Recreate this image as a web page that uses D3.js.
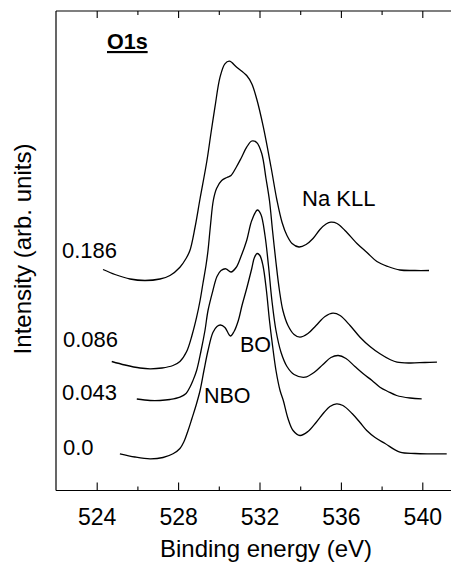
<!DOCTYPE html>
<html>
<head>
<meta charset="utf-8">
<script src="https://cdn.jsdelivr.net/npm/d3@7"></script>
<style>
  html, body { margin: 0; padding: 0; background: #fff; }
  svg { display: block; }
  text { font-family: "Liberation Sans", Arial, sans-serif; fill: #000; }
</style>
</head>
<body>
<svg id="chart" width="451" height="565"></svg>
<script>
// O1s XPS spectra, stacked by Na2O fraction (arbitrary intensity units)
const seriesLabels = ["0.0", "0.043", "0.086", "0.186"];

const energy186 = [524.31, 524.90, 525.64, 526.37, 527.11, 527.60, 528.09, 528.39, 528.58, 528.83, 529.08, 529.41, 529.62, 529.81, 530.06, 530.30, 530.52, 530.88, 531.37, 531.62, 531.86, 532.19, 532.57, 532.86, 533.11, 533.35, 533.60, 533.94, 534.29, 534.63, 534.97, 535.27, 535.51, 535.81, 536.20, 536.79, 537.28, 537.77, 538.31, 538.90, 539.64, 540.33];
const intensity186 = [22.1, 21.6, 21.15, 21.0, 21.15, 21.5, 22.33, 23.2, 24.0, 26.3, 29.2, 32.9, 35.8, 38.33, 41.33, 42.67, 42.93, 42.33, 41.5, 40.67, 39.17, 36.33, 32.3, 29.0, 26.8, 25.5, 24.7, 24.35, 24.6, 25.2, 26.1, 26.65, 26.83, 26.7, 26.0, 24.7, 23.8, 22.9, 22.4, 22.05, 22.0, 22.0];

const energy086 = [524.74, 525.39, 526.13, 526.62, 527.21, 527.75, 528.09, 528.42, 528.68, 528.91, 529.08, 529.22, 529.37, 529.47, 529.59, 529.73, 529.89, 530.14, 530.40, 530.60, 530.85, 531.09, 531.37, 531.62, 531.86, 532.11, 532.32, 532.49, 532.64, 532.81, 532.98, 533.15, 533.40, 533.70, 533.99, 534.38, 534.78, 535.22, 535.61, 535.96, 536.45, 536.94, 537.43, 537.92, 538.41, 538.76, 539.40, 540.13, 540.72];
const intensity086 = [12.9, 12.55, 12.25, 12.17, 12.25, 12.5, 12.9, 13.9, 15.5, 17.33, 19.0, 20.7, 22.5, 24.0, 26.5, 29.0, 30.2, 31.0, 31.3, 31.5, 32.3, 33.2, 34.33, 34.95, 34.8, 33.7, 31.2, 29.0, 26.0, 22.8, 20.0, 18.0, 16.5, 15.6, 15.33, 15.7, 16.5, 17.4, 17.73, 17.5, 16.5, 15.33, 14.4, 13.67, 13.1, 12.83, 12.75, 12.8, 12.83];

const energy043 = [525.97, 526.62, 527.11, 527.60, 528.09, 528.39, 528.58, 528.73, 528.91, 529.13, 529.32, 529.47, 529.71, 529.91, 530.11, 530.35, 530.60, 530.85, 531.09, 531.37, 531.62, 531.90, 532.07, 532.27, 532.44, 532.61, 532.81, 533.06, 533.35, 533.70, 534.24, 534.68, 535.12, 535.51, 535.87, 536.25, 536.69, 537.10, 537.53, 537.92, 538.31, 538.74, 539.40, 539.97];
const intensity043 = [9.15, 9.0, 9.0, 9.1, 9.33, 9.7, 10.33, 11.0, 12.0, 14.0, 16.0, 18.0, 20.0, 21.4, 22.0, 22.17, 21.85, 22.3, 23.4, 25.0, 27.0, 28.05, 27.6, 25.5, 22.5, 19.0, 16.0, 13.8, 12.4, 11.6, 11.33, 11.8, 12.6, 13.3, 13.5, 13.2, 12.4, 11.67, 11.0, 10.33, 9.9, 9.5, 9.25, 9.17];

const energy000 = [525.14, 525.88, 526.62, 527.26, 527.75, 528.09, 528.29, 528.49, 528.68, 528.88, 529.08, 529.27, 529.47, 529.71, 529.91, 530.08, 530.30, 530.57, 530.75, 530.96, 531.14, 531.37, 531.62, 531.75, 531.88, 532.02, 532.17, 532.34, 532.49, 532.64, 532.81, 533.01, 533.17, 533.40, 533.65, 533.99, 534.38, 534.78, 535.17, 535.46, 535.79, 536.10, 536.55, 536.94, 537.27, 537.68, 538.17, 538.90, 539.64, 540.38, 541.20];
const intensity000 = [3.67, 3.35, 3.17, 3.3, 3.67, 4.2, 4.9, 6.0, 7.2, 8.5, 10.0, 12.0, 14.0, 15.8, 16.4, 16.55, 16.3, 15.45, 15.9, 17.0, 18.5, 20.2, 22.2, 23.3, 23.7, 23.5, 22.5, 20.0, 17.0, 14.5, 12.0, 10.0, 9.0, 7.2, 6.0, 5.5, 5.9, 6.8, 7.8, 8.4, 8.67, 8.5, 7.7, 6.8, 6.0, 5.3, 4.7, 3.83, 3.7, 3.67, 3.67];

const xTickValues = [524, 528, 532, 536, 540];
const xMinorTickValues = [526, 530, 534, 538];
const peakLabels = ["Na KLL", "BO", "NBO"];

const spectra = [
  { label: seriesLabels[0], energy: energy000, intensity: intensity000 },
  { label: seriesLabels[1], energy: energy043, intensity: intensity043 },
  { label: seriesLabels[2], energy: energy086, intensity: intensity086 },
  { label: seriesLabels[3], energy: energy186, intensity: intensity186 }
];

const svg = d3.select("#chart");
const plotLeft = 56, plotTop = 11, plotBottom = 490.5;

const x = d3.scaleLinear().domain([522, 542]).range([plotLeft, plotLeft + 20 * 20.35]);
const y = d3.scaleLinear().domain([0, 47.95]).range([plotBottom, plotTop]);

// frame: left, top and bottom edges (right edge falls outside the view)
const frame = svg.append("g").attr("stroke", "#000").attr("stroke-width", 1.2).attr("fill", "none");
frame.append("line").attr("x1", plotLeft).attr("x2", plotLeft).attr("y1", plotTop).attr("y2", plotBottom);
frame.append("line").attr("x1", plotLeft).attr("x2", 470).attr("y1", plotTop).attr("y2", plotTop);
frame.append("line").attr("x1", plotLeft).attr("x2", 470).attr("y1", plotBottom).attr("y2", plotBottom);

function styleTicks(g) {
  g.select(".domain").remove();
  g.selectAll(".tick line").attr("stroke", "#000").attr("stroke-width", 1.1);
}

// inward-pointing ticks on bottom and top
const gx = svg.append("g").attr("transform", `translate(0,${plotBottom})`)
  .call(d3.axisBottom(x).tickValues(xTickValues).tickSizeInner(-8).tickSizeOuter(0).tickPadding(18).tickFormat(d3.format("d")));
styleTicks(gx);
gx.selectAll(".tick text").attr("font-size", 23).attr("font-family", "Liberation Sans, Arial, sans-serif").attr("fill", "#000").attr("dy", "0.71em");

styleTicks(svg.append("g").attr("transform", `translate(0,${plotBottom})`)
  .call(d3.axisBottom(x).tickValues(xMinorTickValues).tickSizeInner(-4).tickSizeOuter(0).tickFormat("")));

styleTicks(svg.append("g").attr("transform", `translate(0,${plotTop})`)
  .call(d3.axisTop(x).tickValues(xTickValues).tickSizeInner(-7).tickSizeOuter(0).tickFormat("")));

styleTicks(svg.append("g").attr("transform", `translate(0,${plotTop})`)
  .call(d3.axisTop(x).tickValues(xMinorTickValues).tickSizeInner(-4).tickSizeOuter(0).tickFormat("")));

// spectra
const line = d3.line()
  .x(d => x(d[0]))
  .y(d => y(d[1]))
  .curve(d3.curveCatmullRom.alpha(0.5));

svg.append("g").selectAll("path")
  .data(spectra)
  .join("path")
  .attr("d", s => line(d3.zip(s.energy, s.intensity)))
  .attr("fill", "none")
  .attr("stroke", "#000")
  .attr("stroke-width", 1.3)
  .attr("stroke-linejoin", "round");

// series labels
const labelPos = [[63, 455], [62, 400], [63, 347], [62, 258]];
svg.append("g").selectAll("text")
  .data(spectra)
  .join("text")
  .attr("x", (s, i) => labelPos[i][0])
  .attr("y", (s, i) => labelPos[i][1])
  .attr("font-size", 22)
  .text(s => s.label);

// peak annotations
svg.append("text").attr("x", 302).attr("y", 206).attr("font-size", 22).text(peakLabels[0]);
svg.append("text").attr("x", 240).attr("y", 352).attr("font-size", 21.5).text(peakLabels[1]);
svg.append("text").attr("x", 204).attr("y", 403).attr("font-size", 21.5).text(peakLabels[2]);

// core-level title
svg.append("text").attr("x", 107).attr("y", 49).attr("font-size", 21.5).attr("font-weight", "bold")
  .attr("text-decoration", "underline").text("O1s");

// axis titles
svg.append("text").attr("x", 266).attr("y", 557).attr("font-size", 24).attr("text-anchor", "middle")
  .text("Binding energy (eV)");
svg.append("text").attr("transform", "translate(31,249) rotate(-90)").attr("font-size", 24)
  .attr("text-anchor", "middle").text("Intensity (arb. units)");
</script>
</body>
</html>
